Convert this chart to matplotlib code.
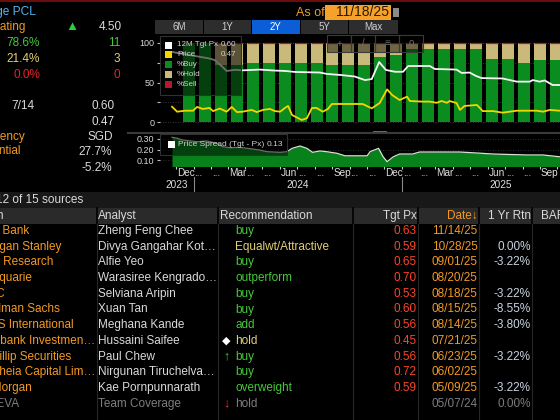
import matplotlib
matplotlib.use('Agg')
import matplotlib.pyplot as plt
import matplotlib.dates as mdates
import matplotlib.transforms as mtrans
from matplotlib.patches import Rectangle
import pandas as pd

plt.rcParams['font.family'] = ['Liberation Sans', 'DejaVu Sans']

W, H = 560, 420

# ----------------------------- data -----------------------------
bar_dates = pd.date_range('2023-12-24', periods=24, freq='28D')
buy_pct = [100, 100, 72.7, 72.7, 75, 75, 75, 75, 75, 72.7, 72.7, 72.7,
           81.8, 84.6, 92.9, 92.9, 92.9, 92.9, 92.9, 80, 80, 75, 78.6, 78.6]
hold_pct = [0, 0, 27.3, 27.3, 25, 25, 25, 25, 25, 27.3, 27.3, 27.3,
            18.2, 15.4, 7.1, 7.1, 7.1, 7.1, 7.1, 20, 20, 25, 21.4, 21.4]
sell_pct = [0] * 24

tgt_dates = ['2023-11-24', '2024-01-03', '2024-01-29', '2024-02-07', '2024-02-19',
             '2024-02-28', '2024-03-14', '2024-03-27', '2024-04-26', '2024-05-23',
             '2024-06-10', '2024-06-27', '2024-08-10', '2024-08-22', '2024-09-14',
             '2024-10-10', '2024-10-28', '2024-11-09', '2024-11-22', '2024-12-04',
             '2024-12-20', '2025-01-03', '2025-01-12', '2025-02-19', '2025-02-28',
             '2025-04-07', '2025-04-16', '2025-04-30', '2025-05-11', '2025-05-21',
             '2025-06-27', '2025-07-22', '2025-08-14', '2025-08-19', '2025-08-31',
             '2025-09-09', '2025-09-23', '2025-10-05', '2025-11-18']
tgt_vals = [0.767, 0.747, 0.734, 0.726, 0.696, 0.671, 0.677, 0.674, 0.678, 0.673,
            0.671, 0.666, 0.663, 0.656, 0.651, 0.643, 0.625, 0.630, 0.716, 0.676,
            0.667, 0.667, 0.696, 0.696, 0.681, 0.678, 0.661, 0.663, 0.646, 0.635,
            0.633, 0.617, 0.617, 0.625, 0.617, 0.623, 0.600, 0.600, 0.600]

px_dates = ['2023-11-24', '2023-12-03', '2023-12-17', '2023-12-31', '2024-01-07',
            '2024-01-17', '2024-01-29', '2024-02-04', '2024-02-16', '2024-02-28',
            '2024-03-08', '2024-03-17', '2024-03-27', '2024-04-12', '2024-04-21',
            '2024-05-02', '2024-05-14', '2024-05-23', '2024-06-01', '2024-06-10',
            '2024-06-15', '2024-06-22', '2024-07-01', '2024-07-09', '2024-07-18',
            '2024-07-27', '2024-08-04', '2024-08-15', '2024-08-24', '2024-08-31',
            '2024-10-24', '2024-11-09', '2024-11-23', '2024-12-06', '2024-12-15',
            '2024-12-28', '2025-01-10', '2025-01-15', '2025-02-07', '2025-02-19',
            '2025-03-03', '2025-03-12', '2025-03-21', '2025-03-26', '2025-04-07',
            '2025-04-13', '2025-04-21', '2025-05-13', '2025-05-23', '2025-06-10',
            '2025-06-27', '2025-07-22', '2025-08-26', '2025-09-06', '2025-09-18',
            '2025-10-05', '2025-11-18']
px_vals = [0.490, 0.465, 0.470, 0.470, 0.489, 0.479, 0.484, 0.468, 0.481, 0.465,
           0.489, 0.463, 0.465, 0.474, 0.463, 0.474, 0.479, 0.468, 0.465, 0.485,
           0.494, 0.448, 0.435, 0.423, 0.432, 0.484, 0.484, 0.465, 0.479, 0.504,
           0.504, 0.482, 0.509, 0.578, 0.549, 0.524, 0.541, 0.519, 0.516, 0.516,
           0.510, 0.519, 0.510, 0.519, 0.509, 0.474, 0.494, 0.499, 0.468, 0.468,
           0.460, 0.470, 0.470, 0.465, 0.474, 0.470, 0.470]

spr_dates = ['2023-11-24', '2023-12-03', '2023-12-13', '2024-01-07', '2024-01-24',
             '2024-02-11', '2024-02-21', '2024-03-05', '2024-03-22', '2024-04-09',
             '2024-04-26', '2024-05-09', '2024-06-01', '2024-06-13', '2024-06-22',
             '2024-07-06', '2024-07-18', '2024-07-28', '2024-08-10', '2024-08-22',
             '2024-09-09', '2024-09-23', '2024-11-01', '2024-11-06', '2024-11-21',
             '2024-11-29', '2024-12-06', '2024-12-17', '2024-12-28', '2025-01-20',
             '2025-02-01', '2025-04-13', '2025-05-18', '2025-06-10', '2025-08-08',
             '2025-09-06', '2025-10-05', '2025-11-18']
spr_vals = [0.316, 0.307, 0.290, 0.274, 0.281, 0.259, 0.227, 0.217, 0.221, 0.208,
            0.195, 0.179, 0.173, 0.179, 0.211, 0.233, 0.211, 0.173, 0.186, 0.179,
            0.164, 0.140, 0.140, 0.179, 0.211, 0.131, 0.084, 0.131, 0.157, 0.157,
            0.176, 0.176, 0.165, 0.157, 0.148, 0.148, 0.131, 0.130]

month_starts = pd.date_range('2023-12-01', '2025-09-01', freq='MS')
month_labels = ['Dec', '...', '...', 'Mar', '...', '...', 'Jun', '...', '...', 'Sep', '...', '...',
                'Dec', '...', '...', 'Mar', '...', '...', 'Jun', '...', '...', 'Sep']
year_labels = ['2023', '2024', '2025']

legend_tgt, legend_px, legend_spread = '0.60', '0.47', '0.13'

# summary panel
summary_labels = ['Consensus Rating', 'Buys', 'Holds', 'Sells', 'Rank', '12M Tgt Px',
                  'Last Price', 'Currency', 'Return Potential', 'LTM Return']
summary_pct = ['78.6%', '21.4%', '0.0%']
summary_cnt = ['11', '3', '0']
rating_value = '4.50'
rank_value = '7/14'
tgt_value, last_value, ccy_value, pot_value, ltm_value = '0.60', '0.47', 'SGD', '27.7%', '-5.2%'

# table
firms = ['DBS Bank', 'Morgan Stanley', 'RHB Research', 'Macquarie', 'HSBC', 'Goldman Sachs',
         'CGS International', 'Maybank Investmen\u2026', 'Phillip Securities',
         'Aletheia Capital Lim\u2026', 'JPMorgan', 'BI EVA']
firm_end = [29, 61, 53, 32, 4.5, 60, 74, 95, 71, 95, 33, 19]
analysts = ['Zheng Feng Chee', 'Divya Gangahar Kot\u2026', 'Alfie Yeo', 'Warasiree Kengrado\u2026',
            'Selviana Aripin', 'Xuan Tan', 'Meghana Kande', 'Hussaini Saifee', 'Paul Chew',
            'Nirgunan Tiruchelva\u2026', 'Kae Pornpunnarath', 'Team Coverage']
recs = ['buy', 'Equalwt/Attractive', 'buy', 'outperform', 'buy', 'buy', 'add', 'hold', 'buy',
        'buy', 'overweight', 'hold']
rec_icons = ['', '', '', '', '', '', '', '\u25C6', '\u2191', '', '', '\u2193']
tgt_px = [0.63, 0.59, 0.65, 0.70, 0.53, 0.60, 0.56, 0.45, 0.56, 0.72, 0.59, None]
dates = ['11/14/25', '10/28/25', '09/01/25', '08/20/25', '08/18/25', '08/15/25', '08/14/25',
         '07/21/25', '06/23/25', '06/02/25', '05/09/25', '05/07/24']
yr_rtn = ['', '0.00%', '-3.22%', '', '-3.22%', '-8.55%', '-3.80%', '', '-3.22%', '',
          '-3.22%', '0.00%']
buttons = ['6M', '1Y', '2Y', '5Y', 'Max']

# ----------------------------- styles -----------------------------
BG = 'black'
ORANGE = '#f39a22'
LIGHT = '#dadada'
GRN_BAR = '#0a8c1e'
GRN_FILL = '#07821b'
TAN_BAR = '#c9b97a'
RED_BAR = '#b31b2b'
GRN_TXT = '#45c93a'
TAN_TXT = '#e3cf74'
RED_TXT = '#ec2228'
TGT_RED = '#ff4326'
RTN_COL = '#c9d3e3'
GRAY_TXT = '#7d7d7d'

fig = plt.figure(figsize=(W / 100, H / 100), dpi=100, facecolor=BG)


def fpos(x0, y0, x1, y1):
    return [x0 / W, 1 - y1 / H, (x1 - x0) / W, (y1 - y0) / H]


# x scale: Dec 1 2023 at px 176, 0.569 px/day, axes from px 160 to 600
ref = mdates.date2num(pd.Timestamp('2023-12-01'))
ppd = 0.569
xlim = (ref - (176 - 160) / ppd, ref + (600 - 176) / ppd)

bx = mdates.date2num(bar_dates)
tx = mdates.date2num(pd.to_datetime(tgt_dates))
pxx = mdates.date2num(pd.to_datetime(px_dates))
sx = mdates.date2num(pd.to_datetime(spr_dates))
mx = mdates.date2num(month_starts)
bw = 12 / ppd

# ---- main chart ----
ax = fig.add_axes(fpos(160, 35, 600, 130))
ax.set_facecolor(BG)
ax.set_xlim(*xlim)
ax.set_ylim(-(130 - 122) / 0.79, 100 + (43 - 35) / 0.79)
ax.bar(bx, buy_pct, width=bw, color=GRN_BAR, zorder=2, linewidth=0)
ax.bar(bx, hold_pct, width=bw, bottom=buy_pct, color=TAN_BAR, zorder=2, linewidth=0)
ax.bar(bx, sell_pct, width=bw, bottom=100, facecolor=RED_BAR, edgecolor=RED_BAR,
       linewidth=0.9, zorder=3)
ax.set_yticks([0, 50, 100])
ax.set_yticklabels(['0', '50', '100'])
ax.set_yticks([25, 75], minor=True)
ax.grid(which='both', axis='y', color='#4a4a4a', linestyle=(0, (1, 2)), linewidth=0.6)
ax.set_axisbelow(True)
ax.tick_params(axis='y', which='both', direction='out', length=2.5, width=0.8,
               color='#bdbdbd', labelsize=6.5, labelcolor='#d8d8d8', pad=1.5)
ax.tick_params(axis='x', bottom=False, labelbottom=False)
for s in ax.spines.values():
    s.set_visible(False)

ax2 = ax.twinx()
ax2.set_xlim(*xlim)
ax2.set_ylim(0.47 + (110.7 - 130) / 197.7, 0.47 + (110.7 - 35) / 197.7)
ax2.plot(tx, tgt_vals, color='#f5f5f5', lw=1.3, zorder=4)
ax2.plot(pxx, px_vals, color='#f2d600', lw=1.3, zorder=4)
ax2.set_yticks([])
for s in ax2.spines.values():
    s.set_visible(False)

# ---- spread chart ----
ax3 = fig.add_axes(fpos(160, 134, 600, 166))
ax3.set_facecolor(BG)
ax3.set_xlim(*xlim)
ax3.set_ylim((170.5 - 166) / 105, (170.5 - 134) / 105)
ax3.fill_between(sx, 0, spr_vals, color=GRN_FILL, lw=0, zorder=2)
ax3.plot(sx, spr_vals, color='#d5e3d5', lw=0.9, zorder=3)
ax3.set_yticks([0.1, 0.2, 0.3])
ax3.set_yticklabels(['0.10', '0.20', '0.30'])
ax3.grid(axis='y', color='#3a3a3a', linestyle=(0, (1, 2)), linewidth=0.6)
ax3.set_axisbelow(True)
ax3.tick_params(axis='y', direction='out', length=2.5, width=0.8, color='#bdbdbd',
                labelsize=6.5, labelcolor='#d8d8d8', pad=1.5)
ax3.set_xticks(mdates.date2num(pd.date_range('2023-12-01', '2025-11-01', freq='MS')))
ax3.tick_params(axis='x', direction='out', length=2.5, width=0.8, color='#cfcfcf',
                labelbottom=False)
for s in ax3.spines.values():
    s.set_visible(False)

blend = mtrans.blended_transform_factory(ax3.transData, fig.transFigure)
for m, lab in zip(mx, month_labels):
    ax3.text(m + 1.5, 1 - 173 / H, lab, transform=blend, color='#e0e0e0', fontsize=7.2,
             ha='left', va='center', clip_on=False)
jan24 = mdates.date2num(pd.Timestamp('2024-01-01'))
jan25 = mdates.date2num(pd.Timestamp('2025-01-01'))
year_centers = [(xlim[0] + jan24) / 2, (jan24 + jan25) / 2, (jan25 + xlim[1]) / 2]
for c, lab in zip(year_centers, year_labels):
    ax3.text(c, 1 - 185 / H, lab, transform=blend, color='#e0e0e0', fontsize=7.2,
             ha='center', va='center', clip_on=False)
for j in (jan24, jan25):
    ax3.plot([j, j], [1 - 177 / H, 1 - 192 / H], transform=blend, color='#8a8a8a',
             lw=0.8, clip_on=False)

# ---- overlay (pixel coordinates) ----
ov = fig.add_axes([0, 0, 1, 1], zorder=10)
ov.set_xlim(0, W)
ov.set_ylim(H, 0)
ov.axis('off')
ov.patch.set_alpha(0)


def T(x, y, s, color=LIGHT, size=8.5, ha='left', **kw):
    ov.text(x, y, s, color=color, fontsize=size, ha=ha, va='center', **kw)


def R(x, y, w, h, color, **kw):
    ov.add_patch(Rectangle((x, y), w, h, facecolor=color, edgecolor='none', **kw))


# top red rule
R(0, 0, W, 1.6, '#6b0d0d')

# as-of + date box
T(296.5, 12.5, 'As of', ORANGE, 9)
R(324.5, 5, 66, 15, '#f5a12a')
T(389, 12.5, '11/18/25', '#2a1a00', 10, ha='right')
R(393, 8, 6, 9, '#8a8a8a')
R(394, 10.5, 4, 0.8, '#222222')

# range buttons
bxs = [(155, 203), (204, 251), (252, 300), (301, 348), (349, 398)]
for (x0, x1), lab in zip(bxs, buttons):
    active = lab == '2Y'
    R(x0, 20, x1 - x0, 14, '#0b5ed7' if active else '#2d2d2d')
    T((x0 + x1) / 2, 27.2, lab, '#ffffff' if active else '#cfcfcf', 7, ha='center')

# chart legend
R(160, 36, 81, 59, '#000000', alpha=0.55)
ov.add_patch(Rectangle((160, 36), 81, 59, facecolor='none', edgecolor='#303030', lw=0.8))
leg_rows = [('12M Tgt Px', '#ffffff', legend_tgt), ('Price', '#f2d600', legend_px),
            ('%Buy', GRN_BAR, ''), ('%Hold', TAN_BAR, ''), ('%Sell', RED_BAR, '')]
for i, (lab, col, val) in enumerate(leg_rows):
    yy = 45 + i * 9.9
    R(165, yy - 3.5, 7, 7, col)
    T(177, yy, lab, '#d0d0d0', 5.8)
    if val:
        T(236, yy, val, '#d0d0d0', 5.8, ha='right')

# spread legend
R(160, 134, 127, 21, '#000000', alpha=0.5)
ov.add_patch(Rectangle((160, 134), 127, 21, facecolor='none', edgecolor='#303030', lw=0.8))
R(168, 141, 7, 7, '#ffffff')
T(178, 145, 'Price Spread (Tgt - Px)', '#d0d0d0', 6)
T(283, 145, legend_spread, '#d0d0d0', 6, ha='right')

# chart toolbar overlay
R(327, 35, 96, 17, '#000000', alpha=0.45)
for k, g in enumerate(['+', '/', '\u2261', 'o']):
    x0 = 327 + 24 * k
    ov.add_patch(Rectangle((x0, 35), 24, 17, facecolor='none', edgecolor='#3a3a3a', lw=0.8))
    T(x0 + 12, 43.5, g, '#6e6e6e', 7, ha='center')

# splitter
ov.plot([128, W], [132.5, 132.5], color='#3a3a3a', lw=1.5)
R(373, 131, 14, 3, '#6a6a6a')

# summary panel (left)
T(36, 12, 'Thai Beverage PCL', '#56b4f0', 8.6, ha='right')
T(25, 27, summary_labels[0], ORANGE, 8.5, ha='right')
T(72, 27, '\u25B2', '#2ecc40', 9.5, ha='center')
T(122, 27, rating_value, LIGHT, 8.5, ha='right')
pct_cols = [GRN_TXT, TAN_TXT, RED_TXT]
for i, (p, c, col) in enumerate(zip(summary_pct, summary_cnt, pct_cols)):
    yy = 42.5 + i * 16
    T(40, yy, p, col, 8.5, ha='right')
    T(120, yy, c, col, 8.5, ha='right')
T(34, 106, rank_value, LIGHT, 8.5, ha='right')
T(115, 106, tgt_value, LIGHT, 8.5, ha='right')
T(115, 122, last_value, LIGHT, 8.5, ha='right')
T(25, 137, summary_labels[7], ORANGE, 8.5, ha='right')
T(113, 137, ccy_value, LIGHT, 8.5, ha='right')
T(20, 151.5, summary_labels[8], ORANGE, 8.5, ha='right')
T(112, 152, pot_value, LIGHT, 8.5, ha='right')
T(112, 168, ltm_value, LIGHT, 8.5, ha='right')

# table band + header
R(0, 192, W, 16, '#181818')
T(83, 200, '12 of 15 sources', LIGHT, 8.5, ha='right')
R(0, 208, W, 16, '#2a2a2a')
seps = [96.7, 218, 352.7, 418.3, 479, 532]
for s in seps:
    ov.plot([s, s], [208, 224], color='#000000', lw=1.2)
    ov.plot([s, s], [224, H], color='#262626', lw=0.8)
T(4, 216, 'Firm', LIGHT, 8.5, ha='right')
T(98, 216, 'Analyst', LIGHT, 8.5)
T(220, 216, 'Recommendation', LIGHT, 8.5)
T(416.7, 216, 'Tgt Px', LIGHT, 8.5, ha='right')
T(478, 216, 'Date\u2193', ORANGE, 8.5, ha='right')
T(531, 216, '1 Yr Rtn', LIGHT, 8.5, ha='right')
T(541.5, 216, 'BAR', LIGHT, 8.5)

rec_color = {'buy': GRN_TXT, 'outperform': GRN_TXT, 'add': GRN_TXT, 'overweight': GRN_TXT,
             'Equalwt/Attractive': TAN_TXT, 'hold': TAN_TXT}
icon_color = {'\u25C6': '#ffffff', '\u2191': '#3ad13a', '\u2193': '#ff2a2a'}
n = len(firms)
for i in range(n):
    yy = 231 + i * 15.7
    last = i == n - 1
    T(firm_end[i], yy, firms[i], GRAY_TXT if last else ORANGE, 8.5, ha='right')
    T(98, yy, analysts[i], GRAY_TXT if last else LIGHT, 8.5)
    T(235.5, yy, recs[i], GRAY_TXT if last else rec_color[recs[i]], 8.5)
    if rec_icons[i]:
        T(226.7, yy, rec_icons[i], icon_color[rec_icons[i]], 8 if rec_icons[i] == '\u25C6' else 9,
          ha='center', fontweight='bold')
    if tgt_px[i] is not None:
        T(416.7, yy, f'{tgt_px[i]:.2f}', TGT_RED, 8.5, ha='right')
    T(477.5, yy, dates[i], GRAY_TXT if last else ORANGE, 8.5, ha='right')
    if yr_rtn[i]:
        T(531, yy, yr_rtn[i], GRAY_TXT if last else RTN_COL, 8.5, ha='right')

fig.savefig('out.png', dpi=100, facecolor=BG)
